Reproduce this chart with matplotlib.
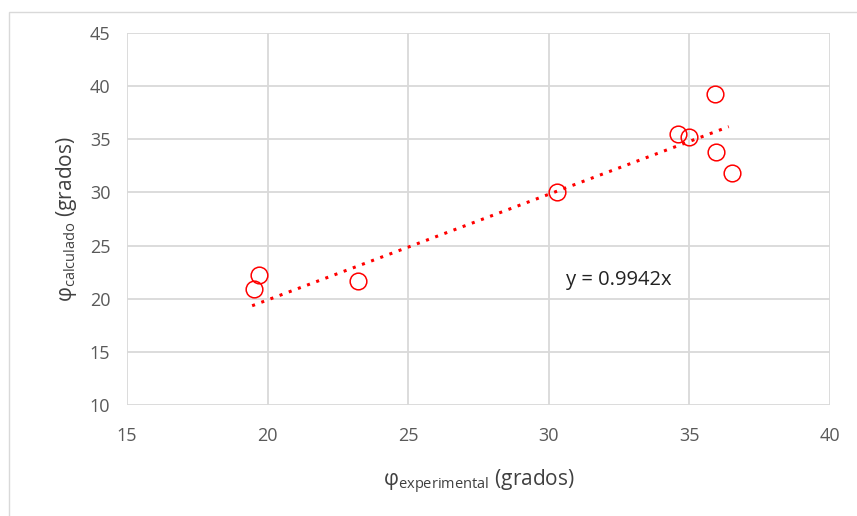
import matplotlib.pyplot as plt
import numpy as np
from matplotlib.patches import Rectangle

# measured vs calculated friction angle (degrees)
phi_exp = [19.5, 19.7, 23.2, 30.3, 34.6, 35.0, 35.9, 35.95, 36.5]
phi_calc = [20.9, 22.2, 21.7, 30.0, 35.5, 35.2, 39.3, 33.8, 31.8]
slope = 0.9942
eq_label = "y = 0.9942x"

x_ticks = [15, 20, 25, 30, 35, 40]
y_ticks = [10, 15, 20, 25, 30, 35, 40, 45]

plt.rcParams['font.family'] = ['Open Sans', 'DejaVu Sans']
plt.rcParams['mathtext.fontset'] = 'custom'
plt.rcParams['mathtext.rm'] = 'Open Sans'

fig = plt.figure(figsize=(8.57, 5.16), dpi=100)
ax = fig.add_axes([127 / 857, 1 - 405 / 516, (830 - 127) / 857, (405 - 33) / 516])

# light frame around the whole chart
fig.patches.append(Rectangle((9 / 857, -0.01), 1.0, 1 - 12 / 516 + 0.01,
                             transform=fig.transFigure, fill=False,
                             edgecolor="#d9d9d9", linewidth=1))

ax.plot(phi_exp, phi_calc, linestyle="none", marker="o", markersize=12,
        markerfacecolor="none", markeredgecolor="red", markeredgewidth=1.1, zorder=3)

xfit = np.array([min(phi_exp) - 0.05, 36.4])
ax.plot(xfit, slope * xfit, color="red", linestyle=(0, (1, 2.2)),
        linewidth=2.2, zorder=2)

ax.text(32.5, 21.8, eq_label, fontsize=14.5, color="#222222", ha="center", va="center")

ax.set_xlim(15, 40)
ax.set_ylim(10, 45)
ax.set_xticks(x_ticks)
ax.set_yticks(y_ticks)
ax.grid(True, color="#d9d9d9", linewidth=1.3)
ax.set_axisbelow(True)
for s in ax.spines.values():
    s.set_visible(False)
ax.tick_params(length=0, labelsize=13, labelcolor="#595959")
ax.tick_params(axis="x", pad=16)
ax.tick_params(axis="y", pad=12)

ax.set_xlabel("\u03c6" + r"$_{\mathrm{experimental}}$ (grados)", fontsize=15,
              color="#404040", labelpad=16)
ax.set_ylabel("\u03c6" + r"$_{\mathrm{calculado}}$ (grados)", fontsize=15,
              color="#404040", labelpad=8)

fig.savefig("out.png", dpi=100)
